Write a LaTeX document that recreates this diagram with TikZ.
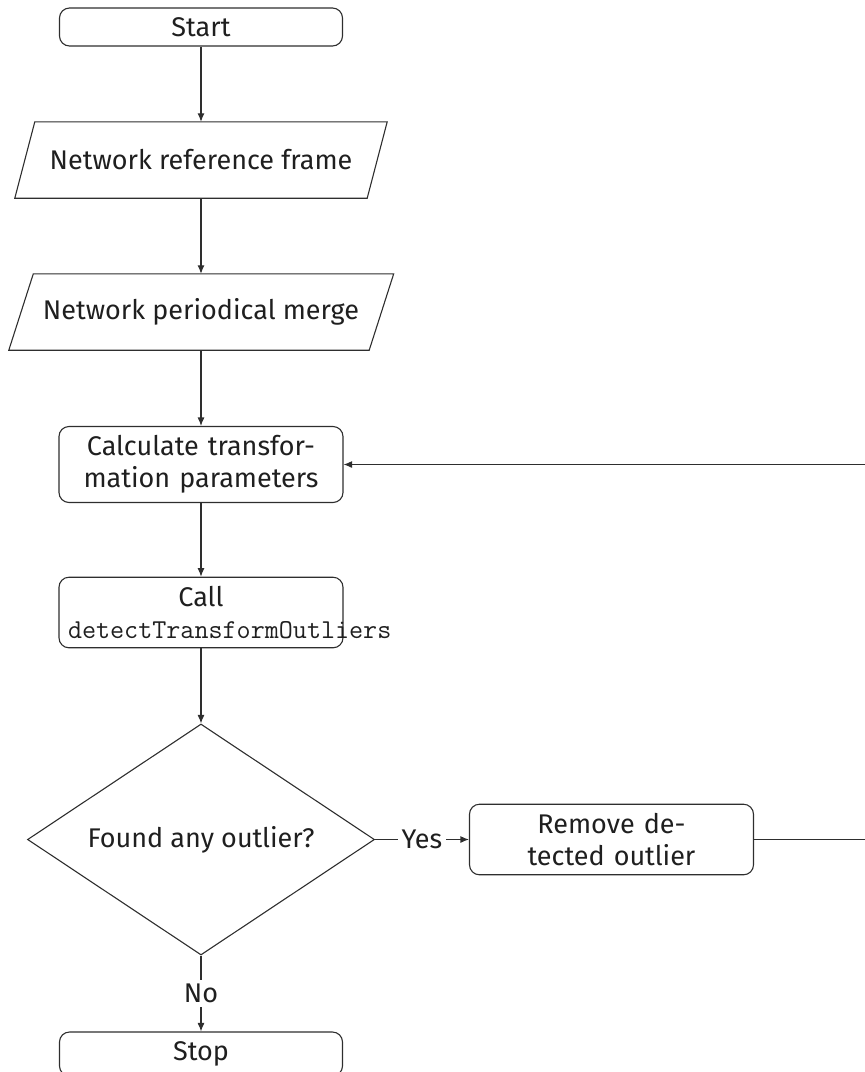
\documentclass[tikz,border=0pt]{standalone}
\usepackage{fontspec}
\setmainfont{Fira Sans}
\usetikzlibrary{shapes.geometric,arrows.meta}
\begin{document}
\begin{tikzpicture}[x=1pt,y=-1pt,
  font=\fontsize{27}{32}\selectfont,
  every node/.style={text=black!88},
  conn/.style={draw=black!82,line width=1.1pt},
  arr/.style={conn,-{Latex[length=8.5pt,width=7pt]}},
  term/.style={conn,rounded corners=10pt,minimum width=283pt,minimum height=38pt,inner sep=0pt},
  proc/.style={conn,rounded corners=10pt,text width=266pt,inner sep=9pt,align=center,minimum height=69pt},
  iotext/.style={inner sep=0pt,minimum height=76pt},
  decision/.style={conn,diamond,aspect=1.5,inner sep=0pt,minimum width=347pt,minimum height=231pt},
  lbl/.style={fill=white,inner sep=4pt}]
\useasboundingbox (0,0) rectangle (865,1072);

% terminals, processes and data steps
\node[term] (start) at (201,27) {Start};
\node[iotext,minimum width=352pt] (ref) at (201,160) {Network reference frame};
\draw[conn] ([xshift=10pt]ref.north west) -- ([xshift=10pt]ref.north east)
  -- ([xshift=-10pt]ref.south east) -- ([xshift=-10pt]ref.south west) -- cycle;
\node[iotext,minimum width=360pt] (merge) at (201,312) {Network periodical merge};
\draw[conn] ([xshift=12.5pt]merge.north west) -- ([xshift=12.5pt]merge.north east)
  -- ([xshift=-12pt]merge.south east) -- ([xshift=-12pt]merge.south west) -- cycle;
\node[proc,minimum height=75pt] (calc) at (201,464.5) {Calculate transfor-\\mation parameters};
\node[proc] (call) at (201,612.5) {Call\\\fontsize{27.3}{30}\selectfont\texttt{detectTransformOutliers}};
\node[decision] (dec) at (201,839.5) {Found any outlier?};
\node[proc] (rm) at (611.5,839.5) {Remove de-\\tected outlier};
\node[term,minimum height=44pt] (stop) at (201,1054) {Stop};

% connectors
\draw[arr] (start) -- (ref);
\draw[arr] (ref) -- (merge);
\draw[arr] (merge) -- (calc);
\draw[arr] (calc) -- (call);
\draw[arr] (call) -- (dec);
\draw[arr] (dec) -- node[lbl] {Yes} (rm);
\draw[arr] (dec) -- node[lbl] {No} (stop);
\coordinate (back) at (890,650);
\draw[arr] (rm.east) -| (back) |- (calc.east);
\end{tikzpicture}
\end{document}
